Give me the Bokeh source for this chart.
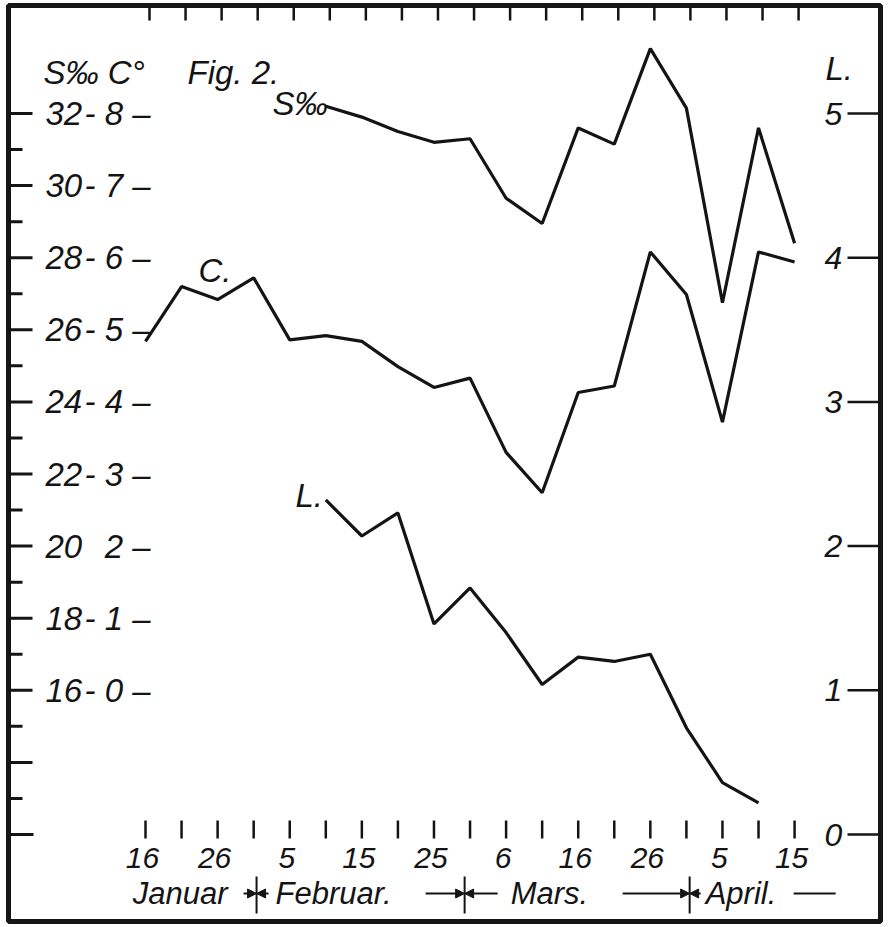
from bokeh.plotting import figure
from bokeh.models import Range1d, Arrow, NormalHead
from bokeh.core.properties import value
from bokeh.embed import file_html
from bokeh.resources import INLINE

# ---------------- data ----------------
pentads = list(range(19))
day_labels = ["16", "", "26", "", "5", "", "15", "", "25", "", "6", "", "16", "", "26", "", "5", "", "15"]
months = ["Januar", "Februar.", "Mars.", "April."]
month_bounds = [3.08, 8.85, 15.09]  # month changes, in pentad units

sal_x = [5, 6, 7, 8, 9, 10, 11, 12, 13, 14, 15, 16, 17, 18]
salinity = [32.2, 31.9, 31.5, 31.2, 31.3, 29.65, 28.95, 31.6, 31.15, 33.8, 32.15, 26.75, 31.6, 28.4]

temp_x = list(range(19))
temperature = [4.84, 5.60, 5.42, 5.72, 4.86, 4.92, 4.84, 4.49, 4.20, 4.33, 3.30, 2.74,
               4.13, 4.22, 6.08, 5.49, 3.72, 6.08, 5.94]

light_x = [5, 6, 7, 8, 9, 10, 11, 12, 13, 14, 15, 16, 17]
light = [2.32, 2.07, 2.23, 1.46, 1.71, 1.40, 1.04, 1.23, 1.20, 1.25, 0.74, 0.36, 0.22]

s_major = [14, 16, 18, 20, 22, 24, 26, 28, 30, 32]
s_minor = [13, 15, 17, 19, 21, 23, 25, 27, 29, 31]
s_base = [12]
s_labels_at = [32, 30, 28, 26, 24, 22, 20, 18, 16]
s_labels = ["32", "30", "28", "26", "24", "22", "20", "18", "16"]
c_labels = ["- 8 –", "- 7 –", "- 6 –", "- 5 –", "- 4 –", "- 3 –", "2 –", "- 1 –", "- 0 –"]
l_ticks = [0, 1, 2, 3, 4, 5]
l_labels = ["0", "1", "2", "3", "4", "5"]

# ---------------- layout helpers (page pixels -> data units) ----------------
PX0, PXI = 145.0, 36.06   # x pixel of pentad 0, pixels per pentad
PY32, PYS = 113.0, 36.05  # y pixel of S=32, pixels per S unit


def xd(px):
    return (px - PX0) / PXI


def yd(py):
    return 32 - (py - PY32) / PYS


W, H = 886, 925
LEFT, RIGHT, TOP, BOTTOM = 8, 880, 5, 921
s_lo, s_hi = yd(BOTTOM), yd(TOP)

p = figure(width=W, height=H, output_backend="svg", toolbar_location=None,
           x_axis_type=None, y_axis_type=None,
           x_range=Range1d(xd(LEFT), xd(RIGHT)), y_range=Range1d(s_lo, s_hi),
           min_border_left=LEFT, min_border_right=W - RIGHT,
           min_border_top=TOP, min_border_bottom=H - BOTTOM)
p.extra_y_ranges = {
    "C": Range1d(s_lo / 2 - 8, s_hi / 2 - 8),
    "L": Range1d((s_lo - 12) / 4, (s_hi - 12) / 4),
}
p.outline_line_color = "#161616"
p.outline_line_width = 5
p.background_fill_color = "white"
p.border_fill_color = "white"
p.grid.visible = False

INK = "#141414"
FONT = value("Liberation Sans")

# ---------------- data lines ----------------
p.line(sal_x, salinity, line_color=INK, line_width=3.2)
p.line(temp_x, temperature, line_color=INK, line_width=3.2, y_range_name="C")
p.line(light_x, light, line_color=INK, line_width=3.2, y_range_name="L")

# ---------------- left scale ----------------
p.segment(x0=[xd(LEFT)] * len(s_major), y0=s_major, x1=[xd(32)] * len(s_major), y1=s_major,
          line_color=INK, line_width=3)
p.segment(x0=[xd(LEFT)] * len(s_minor), y0=s_minor, x1=[xd(22)] * len(s_minor), y1=s_minor,
          line_color=INK, line_width=3)
p.segment(x0=[xd(LEFT)], y0=s_base, x1=[xd(33)], y1=s_base, line_color=INK, line_width=3)
p.text(x=[xd(45)] * len(s_labels), y=s_labels_at, text=s_labels, text_font=FONT,
       text_font_style="italic", text_font_size="33px", text_color=INK,
       text_align="left", text_baseline="middle")
p.text(x=[xd(150)] * len(c_labels), y=s_labels_at, text=c_labels, text_font=FONT,
       text_font_style="italic", text_font_size="33px", text_color=INK,
       text_align="right", text_baseline="middle")

# ---------------- right scale (L) ----------------
p.segment(x0=[xd(847)] * len(l_ticks), y0=l_ticks, x1=[xd(RIGHT)] * len(l_ticks), y1=l_ticks,
          line_color=INK, line_width=2.5, y_range_name="L")
p.text(x=[xd(833)] * len(l_ticks), y=l_ticks, text=l_labels, text_font=FONT,
       text_font_style="italic", text_font_size="32px", text_color=INK,
       text_align="center", text_baseline="middle", y_range_name="L")

# ---------------- top and bottom pentad ticks ----------------
p.segment(x0=pentads, y0=[yd(820)] * 19, x1=pentads, y1=[yd(838)] * 19,
          line_color=INK, line_width=2.5)
top_x = [i + 4 / PXI for i in pentads]
p.segment(x0=top_x, y0=[yd(TOP)] * 19, x1=top_x, y1=[yd(20)] * 19,
          line_color=INK, line_width=2.5)
lab_x = [i - 3 / PXI for i, t in zip(pentads, day_labels) if t]
lab_t = [t for t in day_labels if t]
p.text(x=lab_x, y=[yd(857)] * len(lab_t), text=lab_t, text_font=FONT,
       text_font_style="italic", text_font_size="30px", text_color=INK,
       text_align="center", text_baseline="middle")

# ---------------- month row ----------------
MY = yd(893)
p.segment(x0=month_bounds, y0=[yd(876)] * 3, x1=month_bounds, y1=[yd(913)] * 3,
          line_color=INK, line_width=2)
b1, b2, b3 = month_bounds
arrows = [(b1 - 13 / PXI, b1), (b1 + 12 / PXI, b1),
          (b2 - 39 / PXI, b2), (b2 + 33 / PXI, b2),
          (b3 - 67 / PXI, b3), (b3 + 11 / PXI, b3)]
for xs, xe in arrows:
    p.add_layout(Arrow(end=NormalHead(size=9, fill_color=INK, line_color=INK, line_width=1),
                       x_start=xs, y_start=MY, x_end=xe, y_end=MY,
                       line_color=INK, line_width=2))
p.segment(x0=[b3 + 104 / PXI], y0=[MY], x1=[b3 + 146 / PXI], y1=[MY], line_color=INK, line_width=2)
month_x = [b1 - 29 / PXI, b1 + 19 / PXI, b2 + 46 / PXI, b3 + 16 / PXI]
month_align = ["right", "left", "left", "left"]
for mx, mt, ma in zip(month_x, months, month_align):
    p.text(x=[mx], y=[MY], text=[mt], text_font=FONT, text_font_style="italic",
           text_font_size="31px", text_color=INK, text_align=ma, text_baseline="middle")

# ---------------- titles and series labels ----------------
notes = [
    ("S‰ C°", xd(43), yd(72)),
    ("Fig. 2.", xd(187), yd(72)),
    ("S‰", xd(272), yd(103)),
    ("C.", xd(198), yd(270)),
    ("L.", xd(295), yd(495)),
    ("L.", xd(825), yd(68)),
]
for t, x, y in notes:
    p.text(x=[x], y=[y], text=[t], text_font=FONT, text_font_style="italic",
           text_font_size="33px", text_color=INK, text_align="left", text_baseline="middle")

open("out.html", "w").write(file_html(p, INLINE))
